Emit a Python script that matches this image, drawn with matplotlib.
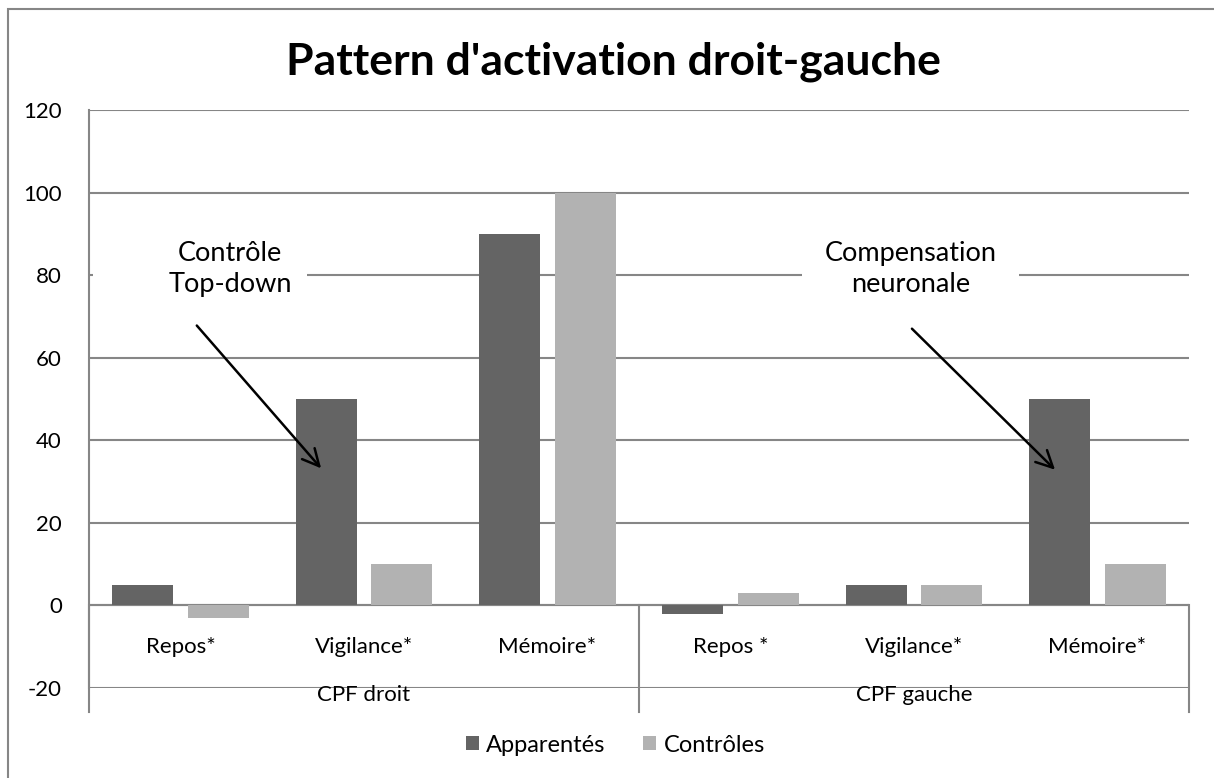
import numpy as np
import matplotlib.pyplot as plt
from matplotlib.patches import Rectangle

# --- Données ---
groupes = ["CPF droit", "CPF gauche"]
conditions = ["Repos*", "Vigilance*", "Mémoire*", "Repos *", "Vigilance*", "Mémoire*"]
apparentes = [5, 50, 90, -2, 5, 50]
controles = [-3, 10, 100, 3, 5, 10]
y_ticks = [-20, 0, 20, 40, 60, 80, 100, 120]

COL_APP = "#646464"
COL_CTRL = "#b2b2b2"
COL_GRID = "#868686"

plt.rcParams["font.family"] = ["Lato", "DejaVu Sans"]

fig = plt.figure(figsize=(12.14, 7.78), dpi=100)
ax = fig.add_axes([89 / 1214, 1 - 688 / 778, 1100 / 1214, 578 / 778])

# cadre du graphique (Excel)
fig.patches.append(Rectangle((8 / 1214, -0.1), 1.2, 1 - 9 / 778 + 0.1,
                             transform=fig.transFigure, fill=False,
                             edgecolor=COL_GRID, linewidth=1.5))

x = np.arange(len(conditions))
w = 0.333
ax.bar(x - 0.207, apparentes, w, color=COL_APP, label="Apparentés", zorder=3)
ax.bar(x + 0.207, controles, w, color=COL_CTRL, label="Contrôles", zorder=3)

ax.set_xlim(-0.5, len(conditions) - 0.5)
ax.set_ylim(-20, 120)
ax.set_yticks(y_ticks)
ax.set_yticklabels([str(v) for v in y_ticks], fontsize=16)
ax.tick_params(axis="y", length=0, pad=19.5)
ax.set_xticks([])
ax.grid(axis="y", color=COL_GRID, linewidth=1.5, zorder=0)
for s in ["top", "right", "bottom"]:
    ax.spines[s].set_visible(False)
ax.spines["left"].set_color(COL_GRID)
ax.spines["left"].set_linewidth(1.5)

# axe horizontal à 0 et étiquettes à deux niveaux
ax.axhline(0, color=COL_GRID, linewidth=1.5, zorder=2)
for i, lab in enumerate(conditions):
    ax.text(i, -10, lab, ha="center", va="center", fontsize=16)
n_par_groupe = len(conditions) // len(groupes)
for g, lab in enumerate(groupes):
    xc = g * n_par_groupe + (n_par_groupe - 1) / 2
    ax.text(xc, -21.6, lab, ha="center", va="center", fontsize=16, clip_on=False)
for xs in [-0.5, 2.5, 5.5]:
    ax.plot([xs, xs], [0, -25.8], color=COL_GRID, linewidth=1.5, clip_on=False)

# zones de texte blanches (masquent la grille) + annotations
ax.add_patch(Rectangle((-0.48, 73), 1.17, 18, facecolor="white", edgecolor="none", zorder=4))
ax.add_patch(Rectangle((3.39, 73), 1.18, 18, facecolor="white", edgecolor="none", zorder=4))
ax.text(0.27, 81.6, "Contrôle\nTop-down", ha="center", va="center", fontsize=19.5,
        linespacing=1.3, zorder=5)
ax.text(3.98, 81.4, "Compensation\nneuronale", ha="center", va="center", fontsize=19.5,
        linespacing=1.3, zorder=5)
arrow = dict(arrowstyle="->", color="black", lw=1.8, mutation_scale=30)
ax.annotate("", xy=(0.776, 32.7), xytext=(0.078, 68.3), arrowprops=arrow, zorder=5)
ax.annotate("", xy=(4.78, 32.4), xytext=(3.978, 67.5), arrowprops=arrow, zorder=5)

fig.text(0.505, 1 - 62 / 778, "Pattern d'activation droit-gauche", ha="center", va="center",
         fontsize=32, fontweight="bold")

fig.legend(loc="center", bbox_to_anchor=(0.507, 1 - 745 / 778), ncol=2, frameon=False,
           fontsize=17, handlelength=0.55, handleheight=0.55, handletextpad=0.3,
           columnspacing=1.6)

plt.savefig("out.png", dpi=100)
